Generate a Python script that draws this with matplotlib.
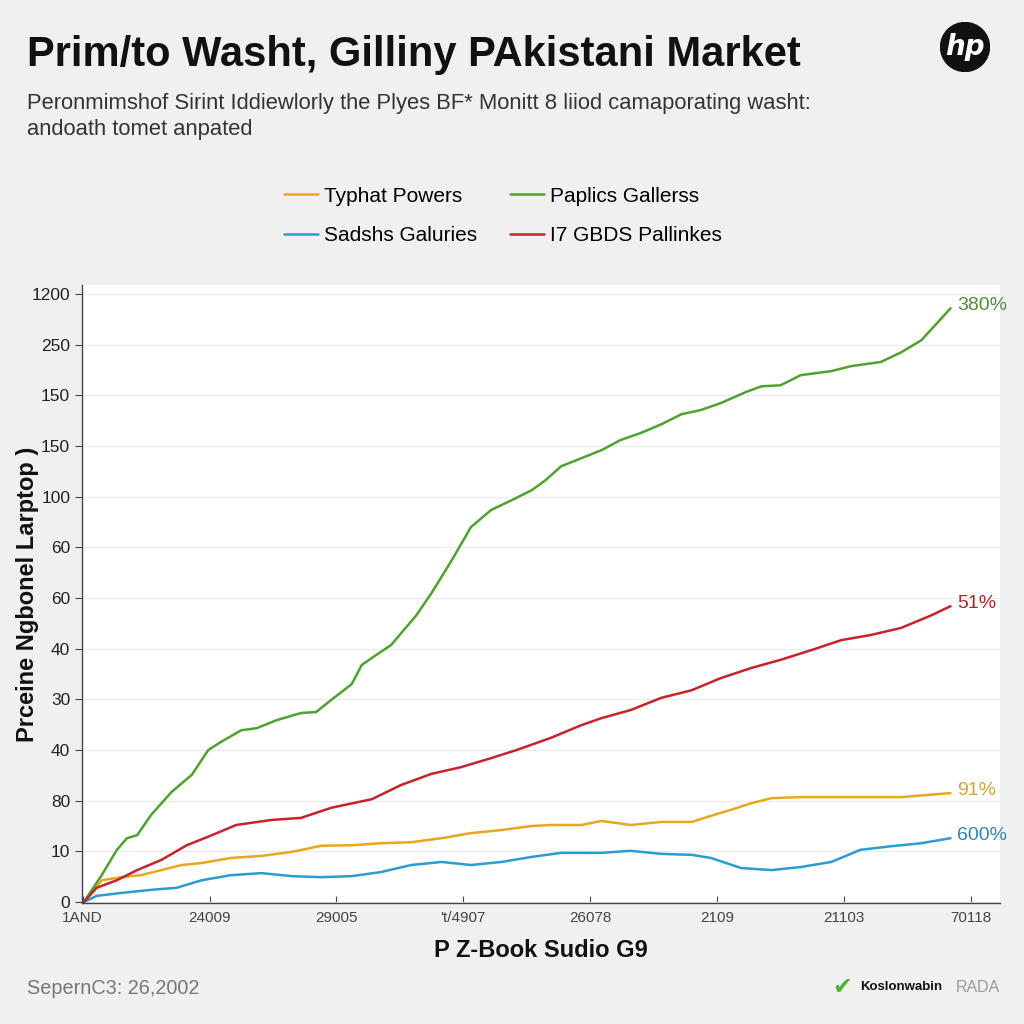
import matplotlib
matplotlib.use("Agg")
import matplotlib.pyplot as plt
from matplotlib.patches import Circle

plt.rcParams['font.family'] = ['Liberation Sans', 'DejaVu Sans']

# ---- data (x in tick-slot units, y in tick-slot units) ----
x_tick_labels = ["1AND", "24009", "29005", "'t/4907", "26078", "2109", "21103", "70118"]
y_tick_labels = ["0", "10", "80", "40", "30", "40", "60", "60", "100", "150", "150", "250", "1200"]

green_x = [0.01, 0.15, 0.27, 0.35, 0.43, 0.54, 0.70, 0.86, 0.99, 1.09, 1.25, 1.37, 1.53, 1.72, 1.84,
           1.96, 2.12, 2.20, 2.31, 2.43, 2.63, 2.75, 2.91, 3.06, 3.22, 3.38, 3.54, 3.65, 3.77, 3.93,
           4.09, 4.24, 4.40, 4.56, 4.72, 4.87, 5.03, 5.23, 5.35, 5.50, 5.66, 5.90, 6.06, 6.29, 6.45,
           6.61, 6.72, 6.84]
green_y = [0.00, 0.53, 1.03, 1.26, 1.32, 1.72, 2.17, 2.51, 3.00, 3.16, 3.39, 3.43, 3.59, 3.73, 3.75,
           3.99, 4.30, 4.68, 4.87, 5.07, 5.66, 6.10, 6.75, 7.40, 7.74, 7.93, 8.13, 8.33, 8.60, 8.76,
           8.92, 9.12, 9.26, 9.43, 9.63, 9.71, 9.85, 10.07, 10.18, 10.20, 10.40, 10.48, 10.58, 10.66,
           10.85, 11.09, 11.39, 11.72]

red_x = [0.01, 0.11, 0.27, 0.43, 0.62, 0.82, 1.02, 1.21, 1.49, 1.72, 1.96, 2.28, 2.51, 2.75, 2.98,
         3.22, 3.42, 3.69, 3.93, 4.09, 4.32, 4.56, 4.80, 5.03, 5.27, 5.50, 5.74, 5.98, 6.21, 6.45,
         6.69, 6.84]
red_y = [0.00, 0.28, 0.43, 0.63, 0.83, 1.12, 1.32, 1.52, 1.62, 1.66, 1.86, 2.03, 2.31, 2.53, 2.66,
         2.84, 3.00, 3.24, 3.49, 3.63, 3.79, 4.03, 4.18, 4.42, 4.62, 4.78, 4.97, 5.17, 5.27, 5.41,
         5.66, 5.84]

orange_x = [0.01, 0.15, 0.31, 0.46, 0.62, 0.78, 0.94, 1.17, 1.41, 1.65, 1.88, 2.12, 2.35, 2.59, 2.83,
            3.06, 3.30, 3.54, 3.69, 3.93, 4.09, 4.32, 4.56, 4.80, 4.95, 5.11, 5.27, 5.43, 5.66, 6.06,
            6.45, 6.84]
orange_y = [0.00, 0.43, 0.49, 0.53, 0.63, 0.73, 0.77, 0.87, 0.91, 0.99, 1.11, 1.12, 1.16, 1.18, 1.26,
            1.36, 1.42, 1.50, 1.52, 1.52, 1.60, 1.52, 1.58, 1.58, 1.70, 1.82, 1.95, 2.05, 2.07, 2.07,
            2.07, 2.15]

blue_x = [0.01, 0.11, 0.31, 0.54, 0.74, 0.94, 1.17, 1.41, 1.65, 1.88, 2.12, 2.35, 2.59, 2.83, 3.06,
          3.30, 3.54, 3.77, 4.09, 4.32, 4.56, 4.80, 4.95, 5.19, 5.43, 5.66, 5.90, 6.13, 6.37, 6.61,
          6.84]
blue_y = [0.00, 0.12, 0.18, 0.24, 0.28, 0.43, 0.53, 0.57, 0.51, 0.49, 0.51, 0.59, 0.73, 0.79, 0.73,
          0.79, 0.89, 0.97, 0.97, 1.01, 0.95, 0.93, 0.87, 0.67, 0.63, 0.69, 0.79, 1.03, 1.10, 1.16,
          1.26]

series_names = ["Typhat Powers", "Sadshs Galuries", "Paplics Gallerss", "I7 GBDS Pallinkes"]
end_labels = ["91%", "600%", "380%", "51%"]

C_ORANGE = "#e8a71c"
C_BLUE = "#2b9bd3"
C_GREEN = "#4ea22e"
C_RED = "#c8222b"
L_ORANGE = "#d4a23a"
L_BLUE = "#2e86b8"
L_GREEN = "#4a8f3a"
L_RED = "#a8282e"

fig = plt.figure(figsize=(10.24, 10.24), dpi=100)
fig.patch.set_facecolor("#f0f0f0")

ax = fig.add_axes([82/1024, 1-903/1024, (1000-82)/1024, (903-285)/1024])
ax.set_facecolor("white")

data = [(orange_x, orange_y, C_ORANGE, L_ORANGE),
        (blue_x, blue_y, C_BLUE, L_BLUE),
        (green_x, green_y, C_GREEN, L_GREEN),
        (red_x, red_y, C_RED, L_RED)]
handles = []
for (xs, ys, c, lc), name, lab in zip(data, series_names, end_labels):
    h, = ax.plot(xs, ys, color=c, lw=1.8, label=name, solid_capstyle="round")
    handles.append(h)
    ax.text(xs[-1] + 0.05, ys[-1] + 0.05, lab, color=lc, fontsize=14, va="center", ha="left")

ax.set_xlim(-0.005, 7.23)
ax.set_ylim(-0.02, 12.18)
ax.set_yticks(range(len(y_tick_labels)))
ax.set_yticklabels(y_tick_labels, fontsize=12.5, color="#222222")
ax.set_xticks(range(len(x_tick_labels)))
ax.set_xticklabels(x_tick_labels, fontsize=11, color="#444444")
ax.tick_params(axis="both", length=5, color="#444444", width=0.8)
ax.tick_params(axis="x", direction="in", pad=6)
ax.grid(axis="y", color="#ebebeb", lw=0.8)
ax.set_axisbelow(True)
for s in ["top", "right"]:
    ax.spines[s].set_visible(False)
for s in ["left", "bottom"]:
    ax.spines[s].set_color("#444444")
    ax.spines[s].set_linewidth(1.0)

ax.set_ylabel("Prceine Ngbonel Larptop )", fontsize=17, fontweight="bold", color="#111111")
ax.yaxis.set_label_coords(-0.047, 0.5)
ax.set_xlabel("P Z-Book Sudio G9", fontsize=17, fontweight="bold", color="#111111", labelpad=10)

# title & subtitle
fig.text(27/1024, 1-55/1024, "Prim/to Washt, Gilliny PAkistani Market", fontsize=30,
         fontweight="bold", color="#111111", va="center", ha="left")
fig.text(27/1024, 1-103/1024, "Peronmimshof Sirint Iddiewlorly the Plyes BF* Monitt 8 liiod camaporating washt:",
         fontsize=15.8, color="#333333", va="center", ha="left")
fig.text(27/1024, 1-130/1024, "andoath tomet anpated", fontsize=15.8, color="#333333", va="center", ha="left")

# hp logo
logo_ax = fig.add_axes([940/1024, 1-72/1024, 50/1024, 50/1024])
logo_ax.set_xlim(-1, 1); logo_ax.set_ylim(-1, 1); logo_ax.axis("off")
logo_ax.add_patch(Circle((0, 0), 0.98, color="#111111"))
logo_ax.text(0, 0, "hp", color="white", fontsize=20, fontweight="bold", style="italic",
             ha="center", va="center", family="DejaVu Sans")

# legend
fig.legend(handles=handles, labels=series_names, ncol=2, loc="center",
           bbox_to_anchor=(503/1024, 1-216/1024), frameon=False, fontsize=15.0,
           handlelength=1.6, columnspacing=1.6, handletextpad=0.3, labelspacing=1.0)

# footer
fig.text(27/1024, 1-988/1024, "SepernC3: 26,2002", fontsize=14.3, color="#777777", va="center", ha="left")
fig.text(832/1024, 1-987/1024, "\u2714", fontsize=17, color="#4cb530", va="center", ha="left",
         family="DejaVu Sans")
fig.text(860/1024, 1-987/1024, "Koslonwabin", fontsize=9.5, fontweight="bold", color="#111111",
         va="center", ha="left")
fig.text(1000/1024, 1-987/1024, "RADA", fontsize=11.5, color="#9a9a9a", va="center", ha="right")

fig.savefig("out.png", dpi=100, facecolor=fig.get_facecolor())
